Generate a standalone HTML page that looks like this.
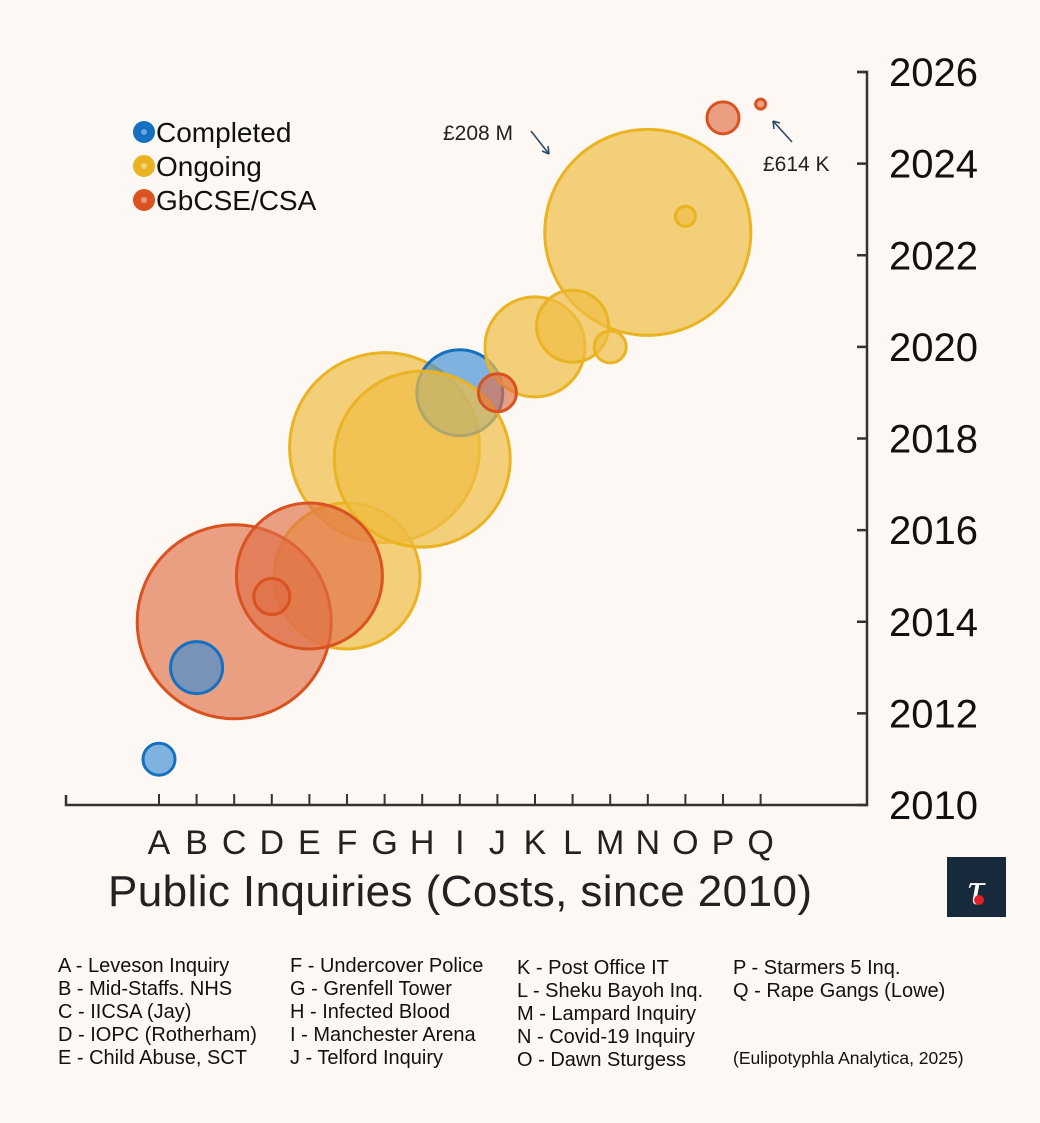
<!DOCTYPE html>
<html><head><meta charset="utf-8"><style>
body{margin:0;background:#fdf8f3;}
svg{display:block;font-family:"Liberation Sans",Arial,sans-serif;}
</style></head><body>
<svg id="chart" width="1040" height="1123" viewBox="0 0 1040 1123">
<rect width="1040" height="1123" fill="#fdf8f3"/>
<g id="bubbles"></g>
<g id="axes"></g>
<g font-size="28" fill="#111">
  <circle cx="144" cy="132" r="11" fill="#1570c0"/><circle cx="144" cy="132" r="3" fill="#6aa6dc"/>
  <text x="156" y="142">Completed</text>
  <circle cx="144" cy="166" r="11" fill="#eab322"/><circle cx="144" cy="166" r="3" fill="#f4d27a"/>
  <text x="156" y="176">Ongoing</text>
  <circle cx="144" cy="200" r="11" fill="#d9521f"/><circle cx="144" cy="200" r="3" fill="#ec9a7c"/>
  <text x="156" y="210">GbCSE/CSA</text>
</g>
<g font-size="21" fill="#222">
  <text x="443" y="140">£208 M</text>
  <line x1="531" y1="131" x2="549" y2="154" stroke="#2c4a6a" stroke-width="1.6"/>
  <path d="M549 154 l-1 -8 M549 154 l-7 -3" stroke="#2c4a6a" stroke-width="1.6" fill="none"/>
  <text x="763" y="171">£614 K</text>
  <line x1="792" y1="142" x2="773" y2="121" stroke="#2c4a6a" stroke-width="1.6"/>
  <path d="M773 121 l1 8 M773 121 l7 2" stroke="#2c4a6a" stroke-width="1.6" fill="none"/>
</g>
<text x="460" y="906" font-size="44" text-anchor="middle" fill="#222" textLength="704">Public Inquiries (Costs, since 2010)</text>
<g font-size="20" fill="#111">
  <text x="58" y="972">A - Leveson Inquiry</text>
  <text x="58" y="995">B - Mid-Staffs. NHS</text>
  <text x="58" y="1018">C - IICSA (Jay)</text>
  <text x="58" y="1041">D - IOPC (Rotherham)</text>
  <text x="58" y="1064">E - Child Abuse, SCT</text>
  <text x="290" y="972">F - Undercover Police</text>
  <text x="290" y="995">G - Grenfell Tower</text>
  <text x="290" y="1018">H - Infected Blood</text>
  <text x="290" y="1041">I - Manchester Arena</text>
  <text x="290" y="1064">J - Telford Inquiry</text>
  <text x="517" y="974">K - Post Office IT</text>
  <text x="517" y="997">L - Sheku Bayoh Inq.</text>
  <text x="517" y="1020">M - Lampard Inquiry</text>
  <text x="517" y="1043">N - Covid-19 Inquiry</text>
  <text x="517" y="1066">O - Dawn Sturgess</text>
  <text x="733" y="974">P - Starmers 5 Inq.</text>
  <text x="733" y="997">Q - Rape Gangs (Lowe)</text>
  <text x="733" y="1064" font-size="17.5">(Eulipotyphla Analytica, 2025)</text>
</g>
<g>
  <rect x="947" y="857" width="59" height="60" fill="#172a3c"/>
  <text x="976" y="904" font-size="46" text-anchor="middle" fill="#fff" font-family="Liberation Serif,serif" font-style="italic">τ</text>
  <circle cx="979" cy="900" r="5" fill="#e0202a"/>
</g>
<script>
const categories=["A","B","C","D","E","F","G","H","I","J","K","L","M","N","O","P","Q"];
const years=[2011,2013,2014,2014.55,2015,2015,2017.8,2017.55,2019,2019,2020,2020.45,2020,2022.5,2022.85,2025,2025.3];
const radii=[16,26,97,18,73,73,95,88,43,19,50,36,16,103,10,16,5];
const groups=["c","c","g","g","g","o","o","o","c","g","o","o","o","o","o","g","g"];
const yTicks=[2010,2012,2014,2016,2018,2020,2022,2024,2026];
const drawOrder=[13,6,5,8,7,2,4,10,11,1,9,3,12,0,14,15,16];
const NS="http://www.w3.org/2000/svg";
const x0=159,dx=37.6,axisR=867,yBase=805,yTop=72,yMin=2010,yMax=2026;
const xs=i=>x0+i*dx;
const ys=v=>yBase-(v-yMin)/(yMax-yMin)*(yBase-yTop);
const colors={c:["#1570c0","rgba(60,140,210,0.65)"],o:["#eab322","rgba(240,190,70,0.7)"],g:["#d9521f","rgba(225,110,70,0.65)"]};
const bg=document.getElementById("bubbles");
drawOrder.forEach(i=>{
  const c=document.createElementNS(NS,"circle");
  c.setAttribute("cx",xs(i));c.setAttribute("cy",ys(years[i]));c.setAttribute("r",radii[i]);
  c.setAttribute("fill",colors[groups[i]][1]);c.setAttribute("stroke",colors[groups[i]][0]);c.setAttribute("stroke-width","3");
  
  
  bg.appendChild(c);
});
const ax=document.getElementById("axes");
function el(t,a){const e=document.createElementNS(NS,t);for(const k in a)e.setAttribute(k,a[k]);ax.appendChild(e);return e;}
const xl=el("path",{d:`M66 ${yBase-10} V${yBase} H${axisR} V${yTop} H857`,fill:"none",stroke:"#333","stroke-width":2.5});


categories.forEach((c,i)=>{
  el("line",{x1:xs(i),x2:xs(i),y1:yBase-11,y2:yBase,stroke:"#333","stroke-width":2});
  const t=el("text",{x:xs(i),y:854,"font-size":34,"text-anchor":"middle",fill:"#222"});
  t.textContent=c;
  
  
});
yTicks.forEach(v=>{
  el("line",{x1:axisR-10,x2:axisR,y1:ys(v),y2:ys(v),stroke:"#333","stroke-width":2.5});
  const t=el("text",{x:889,y:ys(v)+14,"font-size":40,fill:"#111"});
  t.textContent=v;
  
  
});
</script>
</svg>
</body></html>
